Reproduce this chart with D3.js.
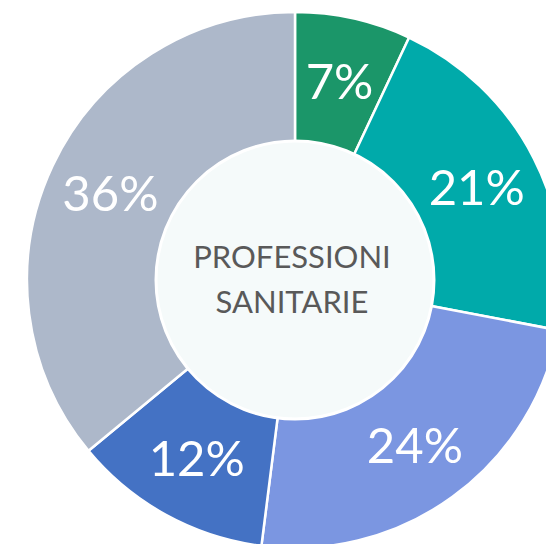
<!DOCTYPE html>
<html>
    <head>
        <meta charset="utf-8">
        <title>Professioni sanitarie</title>
        <script src="https://d3js.org/d3.v7.min.js"></script>
        <style>
            html, body {
                margin: 0;
                padding: 0;
                overflow: hidden;
                background: #FFF;
            }
            #container {
                width: 546px;
                height: 544px;
                display: block;
            }
            text {
                font-family: Lato, "Open Sans", sans-serif;
            }
        </style>
    </head>
    <body>
        <svg id="container" width="546" height="544"></svg>
        <script>
            const categories = ['A', 'B', 'C', 'D', 'E'];
            const values = [7, 21, 24, 12, 36];
            const labels = ['7%', '21%', '24%', '12%', '36%'];
            const colors = ['#1B9669', '#00AAAA', '#7B96E1', '#4472C4', '#ADB8CA'];
            const centerLines = ['PROFESSIONI', 'SANITARIE'];

            const cx = 295, cy = 280;
            const outerR = 268, innerR = 136, holeR = 139, labelR = 204;

            const svg = d3.select('#container');
            const g = svg.append('g')
                .attr('transform', `translate(${cx} ${cy})`);

            const pie = d3.pie()
                .sort(null)
                .value(d => d.value);

            const data = pie(categories.map((c, i) => ({
                name: c,
                value: values[i],
                label: labels[i],
                color: colors[i]
            })));

            const arc = d3.arc()
                .innerRadius(innerR)
                .outerRadius(outerR);
            const labelArc = d3.arc()
                .innerRadius(labelR)
                .outerRadius(labelR);

            g.selectAll('path.slice')
                .data(data)
                .join('path')
                .attr('class', 'slice')
                .attr('d', arc)
                .attr('fill', d => d.data.color)
                .attr('stroke', '#FFF')
                .attr('stroke-width', 2.5)
                .attr('stroke-linejoin', 'round');

            // center hole
            g.append('circle')
                .attr('r', holeR)
                .attr('fill', '#F5FAFA')
                .attr('stroke', '#FFF')
                .attr('stroke-width', 3);

            g.selectAll('text.pct')
                .data(data)
                .join('text')
                .attr('class', 'pct')
                .attr('transform', d => `translate(${labelArc.centroid(d)})`)
                .attr('text-anchor', 'middle')
                .attr('dy', '0.36em')
                .attr('fill', '#FFF')
                .attr('font-size', 49)
                .text(d => d.data.label);

            g.append('text')
                .attr('text-anchor', 'middle')
                .attr('fill', '#595959')
                .attr('font-size', 31)
                .selectAll('tspan')
                .data(centerLines)
                .join('tspan')
                .attr('x', -3)
                .attr('y', (d, i) => -12 + i * 45)
                .text(d => d);
        </script>
    </body>
</html>
